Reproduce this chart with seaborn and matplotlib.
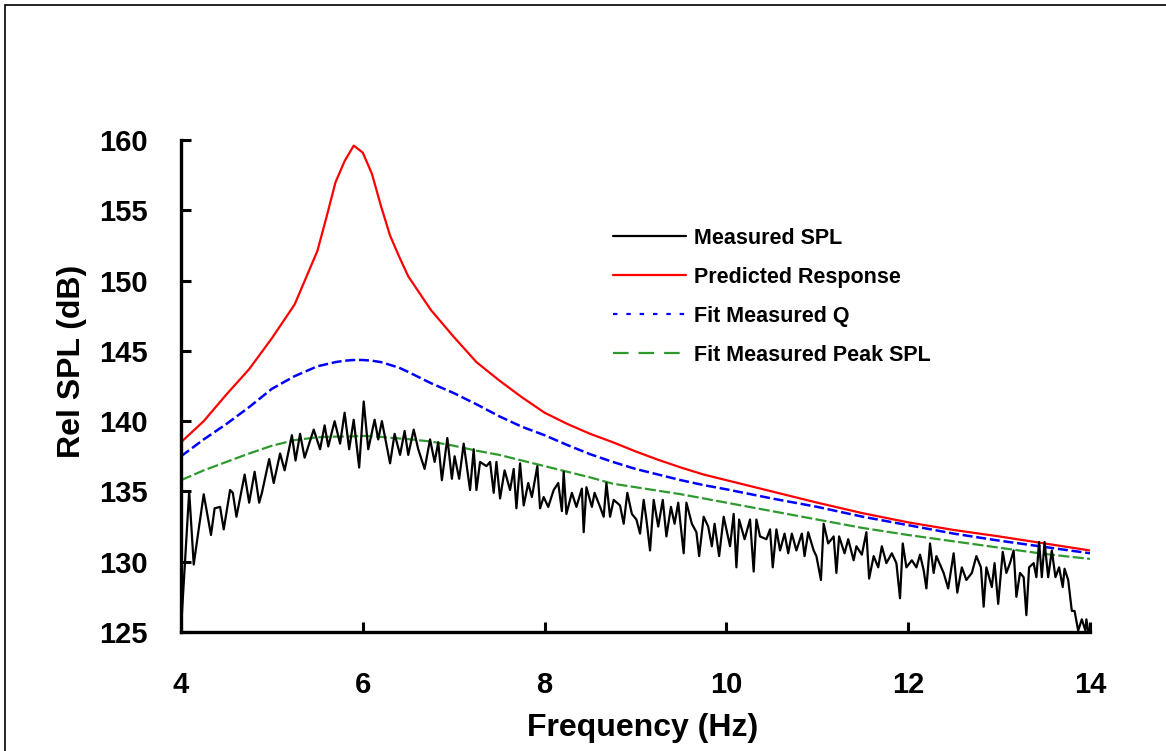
import matplotlib
matplotlib.use("Agg")
import matplotlib.pyplot as plt
from matplotlib.lines import Line2D
from matplotlib.patches import Rectangle
import seaborn as sns

# --- DATA ---
fit_freq = [4.0, 4.25, 4.5, 4.75, 5.0, 5.25, 5.5, 5.6, 5.7, 5.8, 5.9, 6.0, 6.1, 6.2,
            6.3, 6.4, 6.5, 6.75, 7.0, 7.25, 7.5, 7.75, 8.0, 8.25, 8.5, 8.75, 9.0,
            9.25, 9.5, 9.75, 10.0, 10.5, 11.0, 11.5, 12.0, 12.5, 13.0, 13.5, 14.0]
predicted = [138.5, 140.0, 141.9, 143.7, 145.9, 148.3, 152.1, 154.5, 157.0, 158.5,
             159.6, 159.1, 157.6, 155.3, 153.2, 151.7, 150.3, 147.9, 146.0, 144.2,
             142.9, 141.7, 140.6, 139.8, 139.1, 138.5, 137.85, 137.25, 136.7, 136.2,
             135.8, 135.0, 134.2, 133.45, 132.8, 132.26, 131.8, 131.3, 130.8]
fit_q = [137.5, 138.7, 139.8, 141.0, 142.3, 143.2, 143.9, 144.05, 144.2, 144.3,
         144.35, 144.35, 144.3, 144.2, 144.0, 143.8, 143.5, 142.7, 142.0, 141.2,
         140.35, 139.6, 139.0, 138.3, 137.65, 137.1, 136.6, 136.2, 135.8, 135.45,
         135.15, 134.5, 133.9, 133.2, 132.6, 132.0, 131.5, 131.05, 130.6]
fit_peak = [135.8, 136.5, 137.1, 137.7, 138.25, 138.65, 138.85, 138.88, 138.9, 138.9,
            138.92, 138.95, 138.92, 138.88, 138.82, 138.77, 138.72, 138.55, 138.25,
            137.9, 137.6, 137.2, 136.8, 136.4, 136.0, 135.55, 135.3, 135.05, 134.8,
            134.5, 134.2, 133.6, 133.0, 132.4, 131.9, 131.45, 131.0, 130.55, 130.2]

meas_freq = [4.00, 4.09, 4.14, 4.19, 4.25, 4.33, 4.37, 4.43, 4.47, 4.54, 4.57, 4.61,
             4.70, 4.75, 4.81, 4.86, 4.89, 4.97, 5.02, 5.09, 5.14, 5.22, 5.26, 5.31,
             5.36, 5.46, 5.53, 5.58, 5.62, 5.69, 5.75, 5.80, 5.85, 5.90, 5.96, 6.01,
             6.06, 6.13, 6.17, 6.21, 6.30, 6.35, 6.41, 6.46, 6.50, 6.56, 6.61, 6.68,
             6.74, 6.79, 6.83, 6.87, 6.93, 6.98, 7.01, 7.06, 7.11, 7.18, 7.22, 7.25,
             7.29, 7.36, 7.40, 7.44, 7.47, 7.51, 7.56, 7.62, 7.66, 7.69, 7.73, 7.77,
             7.82, 7.86, 7.92, 7.95, 7.99, 8.04, 8.10, 8.15, 8.19, 8.21, 8.24, 8.30,
             8.35, 8.41, 8.43, 8.46, 8.52, 8.55, 8.61, 8.65, 8.68, 8.72, 8.76, 8.83,
             8.87, 8.91, 8.96, 9.01, 9.05, 9.09, 9.12, 9.16, 9.20, 9.25, 9.30, 9.34,
             9.39, 9.43, 9.47, 9.53, 9.56, 9.62, 9.67, 9.70, 9.75, 9.80, 9.84, 9.87,
             9.92, 9.97, 10.04, 10.08, 10.11, 10.14, 10.20, 10.26, 10.30, 10.33, 10.37,
             10.44, 10.48, 10.51, 10.55, 10.59, 10.64, 10.68, 10.72, 10.77, 10.83,
             10.86, 10.90, 10.96, 10.99, 11.04, 11.07, 11.12, 11.18, 11.21, 11.24,
             11.30, 11.34, 11.40, 11.43, 11.49, 11.54, 11.57, 11.62, 11.67, 11.71,
             11.76, 11.82, 11.87, 11.91, 11.94, 11.98, 12.04, 12.09, 12.13, 12.17,
             12.20, 12.24, 12.28, 12.31, 12.35, 12.39, 12.44, 12.50, 12.54, 12.59,
             12.64, 12.70, 12.75, 12.80, 12.83, 12.86, 12.92, 12.95, 12.99, 13.04,
             13.08, 13.12, 13.16, 13.19, 13.23, 13.27, 13.30, 13.33, 13.38, 13.41,
             13.44, 13.47, 13.50, 13.54, 13.58, 13.62, 13.66, 13.70, 13.72, 13.76,
             13.80, 13.83, 13.87, 13.91, 13.95, 13.96, 13.98]
meas_spl = [125.2, 135.0, 129.8, 132.1, 134.8, 131.9, 133.8, 133.9, 132.3, 135.1, 134.9, 133.2,
            136.2, 134.2, 136.4, 134.2, 134.9, 137.3, 135.6, 137.7, 136.5, 139.0, 137.2, 139.1,
            137.4, 139.4, 138.0, 139.7, 138.2, 140.0, 138.4, 140.6, 138.0, 140.1, 136.7, 141.4,
            138.0, 140.1, 138.7, 140.0, 137.0, 139.1, 137.6, 139.3, 137.6, 139.4, 138.0, 136.6,
            138.7, 137.1, 138.5, 135.8, 138.8, 135.9, 137.5, 135.9, 138.4, 135.1, 138.0, 135.1,
            137.1, 136.8, 137.1, 134.9, 137.1, 134.5, 136.5, 135.1, 136.6, 133.8, 137.0, 134.0,
            135.6, 134.6, 136.8, 133.8, 134.6, 133.9, 135.1, 135.6, 133.6, 136.4, 133.4, 134.9,
            133.9, 135.2, 132.1, 135.3, 133.9, 134.9, 133.9, 133.2, 135.6, 133.2, 134.4, 134.0,
            132.7, 134.9, 133.4, 133.0, 132.0, 134.4, 133.0, 130.8, 134.4, 132.5, 134.4, 131.8,
            133.9, 132.7, 134.2, 130.6, 134.2, 132.7, 132.1, 130.4, 133.2, 132.5, 131.1, 132.7,
            130.4, 133.2, 131.1, 133.4, 129.6, 133.0, 131.6, 133.0, 129.3, 133.0, 131.8,
            131.6, 132.3, 129.6, 132.3, 130.8, 132.0, 130.6, 132.0, 130.8, 132.0,
            130.4, 132.1, 130.8, 130.4, 128.7, 132.7, 131.3, 131.8, 129.2, 131.8,
            130.6, 131.6, 130.1, 131.1, 130.5, 132.1, 128.8, 130.4, 129.6, 131.1,
            129.9, 130.6, 129.9, 127.4, 131.3, 129.6, 130.1, 129.6, 130.5, 129.4,
            128.1, 131.3, 129.2, 130.4, 129.8, 129.2, 128.1, 130.6, 127.8, 129.6,
            128.7, 129.2, 130.4, 129.6, 126.8, 129.6, 128.2, 129.9, 127.0, 130.7,
            129.2, 129.9, 130.8, 127.5, 129.2, 128.9, 126.2, 129.6, 129.9, 128.9,
            131.4, 128.9, 131.4, 128.9, 130.8, 128.9, 129.6, 128.2, 129.5, 128.7,
            126.5, 126.5, 125.1, 125.9, 125.1, 125.9, 125.1]

labels = ["Measured SPL", "Predicted Response", "Fit Measured Q", "Fit Measured Peak SPL"]
colors = ["black", "#ff0000", "#0000ff", "#2e9a2e"]
x_ticks = [4, 6, 8, 10, 12, 14]
y_ticks = [125, 130, 135, 140, 145, 150, 155, 160]

# --- STYLE ---
sns.set_theme(style="white")
plt.rcParams["font.family"] = ["Liberation Sans", "DejaVu Sans"]
plt.rcParams["font.weight"] = "bold"
plt.rcParams["text.color"] = "black"
plt.rcParams["axes.labelcolor"] = "black"

W, H = 1166, 751
fig = plt.figure(figsize=(W / 100, H / 100), dpi=100)
fig.patch.set_facecolor("white")
ax = fig.add_axes([181 / W, 119 / H, 909 / W, 492 / H])
ax.set_facecolor("white")

# --- LINES ---
sns.lineplot(x=fit_freq, y=fit_peak, ax=ax, color=colors[3], lw=1.6, sort=False,
             estimator=None, linestyle=(0, (5, 1.5)))
sns.lineplot(x=fit_freq, y=fit_q, ax=ax, color=colors[2], lw=1.8, sort=False,
             estimator=None, linestyle=(0, (4, 1.5)))
sns.lineplot(x=fit_freq, y=predicted, ax=ax, color=colors[1], lw=1.6, sort=False,
             estimator=None)
sns.lineplot(x=meas_freq, y=meas_spl, ax=ax, color=colors[0], lw=1.6, sort=False,
             estimator=None)

ax.set_xlim(4, 14)
ax.set_ylim(125, 160)
ax.set_xticks(x_ticks)
ax.set_yticks(y_ticks)
ax.set_xlabel("")
ax.set_ylabel("")
for s in ["top", "right"]:
    ax.spines[s].set_visible(False)
for s in ["left", "bottom"]:
    ax.spines[s].set_linewidth(2.4)
    ax.spines[s].set_color("black")
ax.tick_params(axis="both", direction="in", length=7, width=2.2, color="black",
               labelsize=21, labelcolor="black", bottom=True, left=True)
ax.tick_params(axis="y", pad=24)
ax.tick_params(axis="x", pad=28)
for t in ax.get_xticklabels() + ax.get_yticklabels():
    t.set_fontweight("bold")

fig.text(72 / W, 1 - 361 / H, "Rel SPL (dB)", rotation=90, ha="center", va="center",
         fontsize=23, fontweight="bold", color="black")
fig.text(643 / W, 1 - 728 / H, "Frequency (Hz)", ha="center", va="center",
         fontsize=23, fontweight="bold", color="black")

# --- LEGEND ---
handles = [
    Line2D([], [], color=colors[0], lw=1.6),
    Line2D([], [], color=colors[1], lw=1.6),
    Line2D([], [], color=colors[2], lw=1.6, linestyle=(0, (2, 4))),
    Line2D([], [], color=colors[3], lw=1.6, linestyle=(0, (7, 4.5))),
]
ax.legend(handles, labels, loc="upper left", bbox_to_anchor=(613 / W, 1 - 228 / H),
          bbox_transform=fig.transFigure, frameon=False,
          handlelength=3.4, handletextpad=0.35, labelspacing=0.83, borderpad=0,
          borderaxespad=0, labelcolor="black",
          prop={"weight": "bold", "size": 15.5})

# figure border
fig.add_artist(Rectangle((4.5 / W, -0.1), 1.2, 1 - 5 / H + 0.1, fill=False,
                         edgecolor="black", lw=1.2, transform=fig.transFigure,
                         clip_on=False))

fig.savefig("out.png", dpi=100)
